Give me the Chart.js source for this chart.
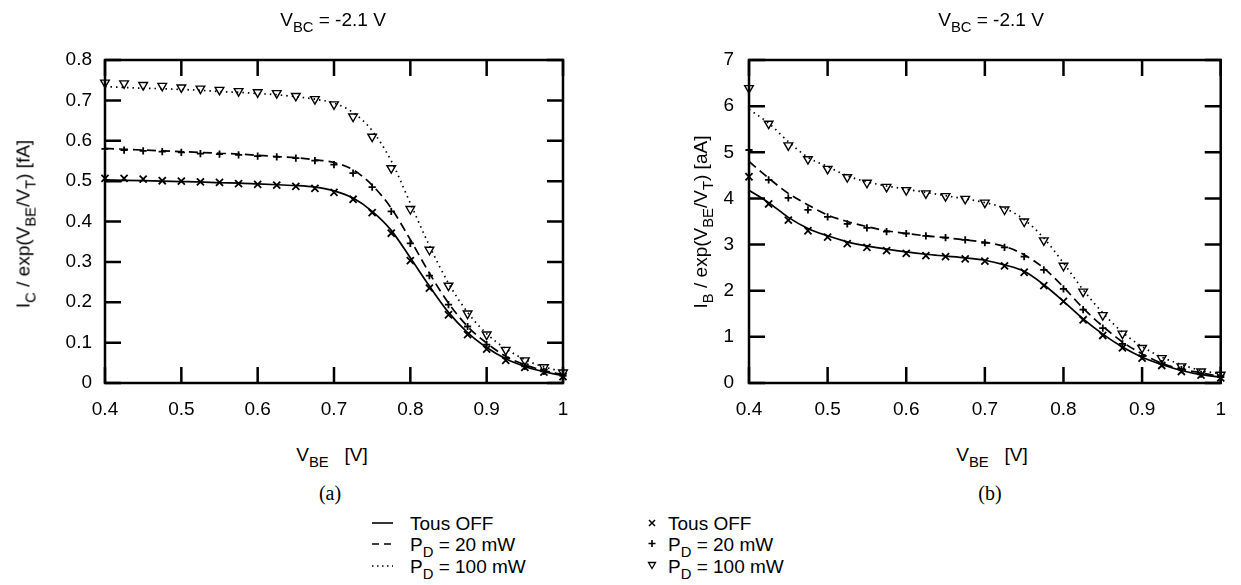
<!DOCTYPE html>
<html>
<head>
<meta charset="utf-8">
<script src="https://cdn.jsdelivr.net/npm/chart.js@4/dist/chart.umd.min.js"></script>
<style>
  html, body { margin: 0; padding: 0; background: #fff; }
  body { width: 1241px; height: 585px; position: relative; overflow: hidden;
         font-family: "Liberation Sans", Arial, Helvetica, sans-serif; color: #000; }
  canvas { position: absolute; top: 0; }
  .t { position: absolute; font-size: 19px; line-height: 1; white-space: nowrap; transform: translateX(-50%); }
  .l { position: absolute; font-size: 19px; line-height: 1; white-space: nowrap; }
  .yt { position: absolute; font-size: 19px; line-height: 1; white-space: nowrap;
        transform: translate(-50%, -50%) rotate(-90deg); }
  .cap { font-family: "Liberation Serif", "Times New Roman", serif; font-size: 20px; }
  sub { font-size: 0.78em; vertical-align: -0.42em; line-height: 0; }
  svg { position: absolute; left: 0; top: 0; }
</style>
</head>
<body>
<canvas id="chartIc" width="620" height="430" style="left:0"></canvas>
<canvas id="chartIb" width="621" height="430" style="left:620px"></canvas>

<div class="t" style="left:333px; top:10px">V<sub>BC</sub> = -2.1 V</div>
<div class="t" style="left:991px; top:10px">V<sub>BC</sub> = -2.1 V</div>

<div class="yt" style="left:23px; top:224px">I<sub>C</sub> / exp(V<sub>BE</sub>/V<sub>T</sub>) [fA]</div>
<div class="yt" style="left:700px; top:222px">I<sub>B</sub> / exp(V<sub>BE</sub>/V<sub>T</sub>) [aA]</div>

<div class="t" style="left:332px; top:445px">V<sub>BE</sub> &nbsp;&nbsp;[V]</div>
<div class="t" style="left:992px; top:445px">V<sub>BE</sub> &nbsp;&nbsp;[V]</div>

<div class="t cap" style="left:330px; top:483px">(a)</div>
<div class="t cap" style="left:990px; top:483px">(b)</div>

<div class="l" style="left:410px; top:514px">Tous OFF</div>
<div class="l" style="left:410px; top:535px">P<sub>D</sub> = 20 mW</div>
<div class="l" style="left:410px; top:557px">P<sub>D</sub> = 100 mW</div>
<div class="l" style="left:668px; top:514px">Tous OFF</div>
<div class="l" style="left:668px; top:535px">P<sub>D</sub> = 20 mW</div>
<div class="l" style="left:668px; top:557px">P<sub>D</sub> = 100 mW</div>

<svg width="1241" height="585">
  <g stroke="#000" stroke-width="1.6" fill="none">
    <line x1="372" y1="523" x2="393" y2="523"/>
    <line x1="372" y1="544" x2="393" y2="544" stroke-dasharray="7 5"/>
    <line x1="372" y1="566" x2="393" y2="566" stroke-dasharray="1.5 3.5"/>
    <path d="M649 520 L655 526 M655 520 L649 526"/>
    <path d="M652 540 L652 547 M648.5 543.5 L655.5 543.5"/>
    <path d="M648.5 562.5 L655.5 562.5 L652 568.5 Z" stroke-width="1.3"/>
  </g>
</svg>

<script>
// Base-emitter voltage samples (V)
const vbe = [0.4, 0.425, 0.45, 0.475, 0.5, 0.525, 0.55, 0.575, 0.6, 0.625, 0.65, 0.675,
             0.7, 0.725, 0.75, 0.775, 0.8, 0.825, 0.85, 0.875, 0.9, 0.925, 0.95, 0.975, 1.0];

// Tick values
const xTicks  = [0.4, 0.5, 0.6, 0.7, 0.8, 0.9, 1];
const icTicks = [0, 0.1, 0.2, 0.3, 0.4, 0.5, 0.6, 0.7, 0.8];
const ibTicks = [0, 1, 2, 3, 4, 5, 6, 7];

// (a) I_C / exp(VBE/VT) [fA] : model curves and measurements
const icOffFit  = [0.503,0.502,0.501,0.500,0.499,0.498,0.496,0.495,0.493,0.491,0.489,0.485,0.476,0.458,0.425,0.378,0.310,0.240,0.175,0.125,0.088,0.060,0.041,0.028,0.018];
const icOffMeas = [0.507,0.507,0.505,0.501,0.500,0.498,0.497,0.494,0.492,0.490,0.487,0.482,0.472,0.455,0.422,0.371,0.303,0.235,0.169,0.120,0.084,0.056,0.039,0.027,0.016];
const ic20Fit   = [0.581,0.579,0.577,0.575,0.573,0.571,0.569,0.567,0.564,0.561,0.558,0.553,0.546,0.528,0.490,0.433,0.355,0.272,0.198,0.140,0.099,0.066,0.045,0.031,0.021];
const ic20Meas  = [0.580,0.577,0.575,0.573,0.571,0.568,0.567,0.565,0.562,0.560,0.557,0.551,0.541,0.520,0.485,0.425,0.346,0.266,0.194,0.140,0.095,0.062,0.041,0.029,0.018];
const ic100Fit  = [0.734,0.732,0.730,0.729,0.727,0.725,0.722,0.720,0.717,0.714,0.709,0.703,0.693,0.670,0.625,0.550,0.445,0.340,0.247,0.175,0.122,0.085,0.058,0.040,0.028];
const ic100Meas = [0.744,0.742,0.738,0.736,0.732,0.729,0.726,0.723,0.720,0.718,0.711,0.703,0.690,0.660,0.610,0.532,0.431,0.330,0.241,0.172,0.120,0.082,0.056,0.039,0.026];

// (b) I_B / exp(VBE/VT) [aA] : model curves and measurements
const ibOffFit  = [4.18,3.91,3.59,3.35,3.19,3.06,2.97,2.90,2.84,2.79,2.75,2.71,2.66,2.56,2.42,2.13,1.77,1.39,1.06,0.78,0.56,0.40,0.27,0.18,0.13];
const ibOffMeas = [4.47,3.88,3.53,3.30,3.16,3.02,2.94,2.87,2.81,2.76,2.74,2.69,2.64,2.54,2.40,2.11,1.77,1.37,1.03,0.76,0.54,0.38,0.25,0.17,0.11];
const ib20Fit   = [4.80,4.44,4.11,3.86,3.64,3.50,3.39,3.30,3.24,3.19,3.15,3.10,3.05,2.96,2.78,2.49,2.08,1.62,1.23,0.89,0.63,0.43,0.30,0.22,0.14];
const ib20Meas  = [5.05,4.40,4.01,3.75,3.60,3.45,3.36,3.28,3.24,3.19,3.15,3.10,3.04,2.94,2.74,2.45,2.04,1.59,1.19,0.85,0.59,0.42,0.29,0.19,0.13];
const ib100Fit  = [5.93,5.63,5.23,4.89,4.69,4.49,4.36,4.27,4.20,4.13,4.06,3.99,3.91,3.79,3.54,3.14,2.60,2.02,1.52,1.10,0.79,0.56,0.40,0.27,0.20];
const ib100Meas = [6.39,5.62,5.15,4.85,4.64,4.46,4.34,4.25,4.18,4.11,4.05,3.99,3.91,3.76,3.50,3.09,2.54,1.98,1.47,1.07,0.76,0.54,0.36,0.25,0.18];

Chart.defaults.font.family = '"Liberation Sans", Arial, Helvetica, sans-serif';
Chart.defaults.font.size = 19;
Chart.defaults.color = '#000';

const pts = ys => ys.map((y, i) => ({ x: vbe[i], y }));

function curve(ys, dash) {
  return { data: pts(ys), showLine: true, pointRadius: 0, borderColor: '#000',
           borderWidth: 1.7, borderDash: dash, cubicInterpolationMode: 'monotone', fill: false };
}
function marks(ys, style, radius, rotation, width) {
  return { data: pts(ys), showLine: false, pointStyle: style, pointRadius: radius,
           pointRotation: rotation || 0, pointBorderColor: '#000', pointBackgroundColor: 'rgba(0,0,0,0)',
           pointBorderWidth: width, clip: false };
}

// gnuplot-style frame: border box with inward ticks on all four sides
const framePlugin = {
  id: 'frame',
  beforeDatasetsDraw(chart) {
    const { ctx, chartArea: a, scales: { x, y } } = chart;
    const L = 16;
    ctx.save();
    ctx.strokeStyle = '#000';
    ctx.lineWidth = 2.5;
    ctx.beginPath();
    x.ticks.forEach(t => {
      const p = x.getPixelForValue(t.value);
      ctx.moveTo(p, a.bottom); ctx.lineTo(p, a.bottom - L);
      ctx.moveTo(p, a.top);    ctx.lineTo(p, a.top + L);
    });
    y.ticks.forEach(t => {
      const p = y.getPixelForValue(t.value);
      ctx.moveTo(a.left, p);  ctx.lineTo(a.left + L, p);
      ctx.moveTo(a.right, p); ctx.lineTo(a.right - L, p);
    });
    ctx.stroke();
    ctx.strokeRect(a.left, a.top, a.right - a.left, a.bottom - a.top);
    ctx.restore();
  }
};

function makeChart(id, yTicks, yMax, series, axisWidth, padRight, yPad) {
  const fixTicks = vals => scale => { scale.ticks = vals.map(v => ({ value: v })); };
  return new Chart(document.getElementById(id), {
    type: 'scatter',
    data: { datasets: series },
    options: {
      responsive: false,
      animation: false,
      layout: { padding: { top: 60, right: padRight, left: 0, bottom: 0 } },
      plugins: { legend: { display: false }, tooltip: { enabled: false } },
      scales: {
        x: {
          type: 'linear', min: 0.4, max: 1,
          afterBuildTicks: fixTicks(xTicks),
          afterFit: s => { s.height = 47; },
          grid: { display: false, drawTicks: false },
          border: { display: false },
          ticks: { padding: 15, maxRotation: 0, autoSkip: false, callback: v => String(v) }
        },
        y: {
          type: 'linear', min: 0, max: yMax,
          afterBuildTicks: fixTicks(yTicks),
          afterFit: s => { s.width = axisWidth; },
          grid: { display: false, drawTicks: false },
          border: { display: false },
          ticks: { padding: yPad, autoSkip: false, callback: v => String(v) }
        }
      }
    },
    plugins: [framePlugin]
  });
}

makeChart('chartIc', icTicks, 0.8, [
  curve(icOffFit, []),
  curve(ic20Fit, [9, 5]),
  curve(ic100Fit, [1.5, 4]),
  marks(icOffMeas, 'crossRot', 5, 0, 1.8),
  marks(ic20Meas, 'cross', 3.6, 0, 1.8),
  marks(ic100Meas, 'triangle', 5, 180, 1.4)
], 105, 57, 13);

makeChart('chartIb', ibTicks, 7, [
  curve(ibOffFit, []),
  curve(ib20Fit, [9, 5]),
  curve(ib100Fit, [1.5, 4]),
  marks(ibOffMeas, 'crossRot', 5, 0, 1.8),
  marks(ib20Meas, 'cross', 3.6, 0, 1.8),
  marks(ib100Meas, 'triangle', 5, 180, 1.4)
], 129, 7, 15);
</script>
</body>
</html>
